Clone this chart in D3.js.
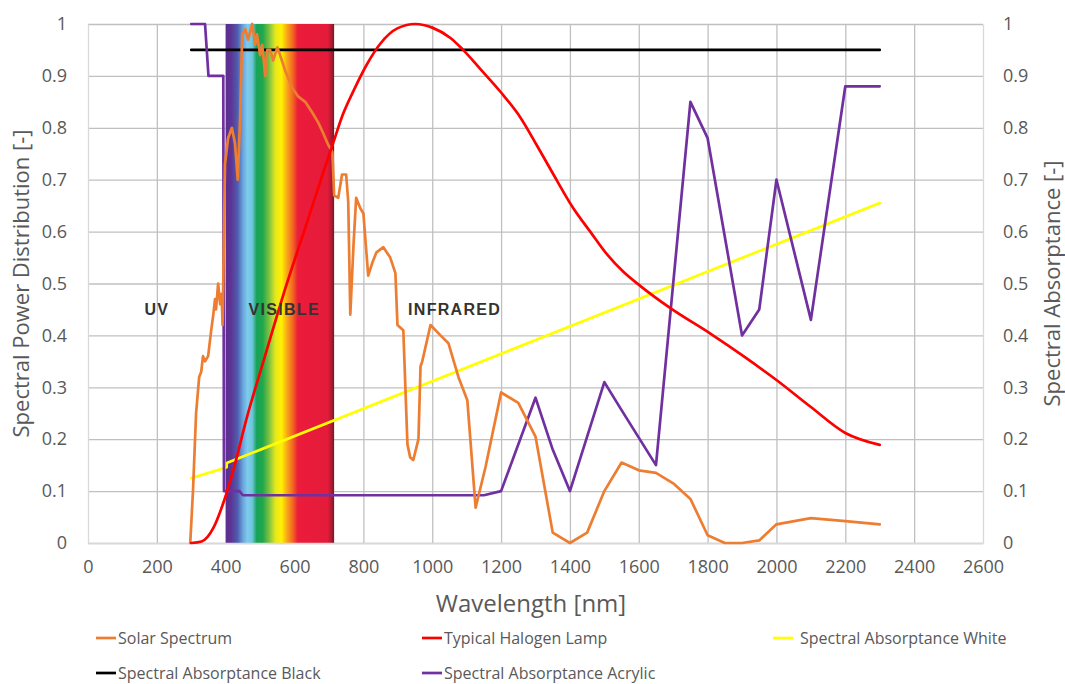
<!DOCTYPE html>
<html><head><meta charset="utf-8">
<script src="https://cdn.jsdelivr.net/npm/d3@7"></script>
<style>
body{margin:0;background:#fff;}
svg{display:block;}
</style></head>
<body>
<div id="chart"></div>
<script>
// ---------- DATA ----------
const xTicks = [0,200,400,600,800,1000,1200,1400,1600,1800,2000,2200,2400,2600];
const yTicks = [0,0.1,0.2,0.3,0.4,0.5,0.6,0.7,0.8,0.9,1];
const seriesNames = ["Solar Spectrum","Typical Halogen Lamp","Spectral Absorptance White","Spectral Absorptance Black","Spectral Absorptance Acrylic"];
const seriesColors = ["#ed7d31","#ff0000","#ffff00","#000000","#7030a0"];

const solarWl = [297,305,314,323,329,334,340,349,358,364,369,372,378,384,388,391,398,407,418,427,435,442,448,457,465,477,486,491,500,506,515,521,529,538,550,558,573,593,611,631,651,669,683,698,710,715,727,738,750,756,762,771,779,791,800,814,826,838,858,878,893,899,916,928,936,945,960,966,971,995,1024,1047,1076,1102,1126,1155,1200,1250,1300,1350,1400,1450,1500,1550,1600,1650,1700,1750,1800,1850,1900,1950,2000,2100,2200,2300];
const solarVal = [0,0.1,0.25,0.32,0.33,0.36,0.35,0.36,0.41,0.44,0.47,0.45,0.50,0.46,0.48,0.42,0.73,0.78,0.80,0.77,0.70,0.82,0.98,0.99,0.97,1.0,0.96,0.98,0.94,0.96,0.90,0.95,0.95,0.93,0.955,0.94,0.91,0.877,0.86,0.85,0.83,0.81,0.79,0.767,0.753,0.67,0.665,0.71,0.71,0.657,0.44,0.57,0.665,0.645,0.635,0.515,0.54,0.56,0.57,0.55,0.52,0.42,0.41,0.19,0.165,0.16,0.2,0.34,0.35,0.42,0.40,0.385,0.32,0.275,0.068,0.147,0.29,0.27,0.205,0.02,0.0,0.02,0.1,0.155,0.14,0.135,0.115,0.085,0.015,0.0,0.0,0.005,0.036,0.048,0.042,0.036];

const halogenWl = [300,330,365,393,422,462,515,573,631,689,712,740,774,810,849,900,951,1000,1053,1087,1140,1200,1256,1305,1353,1407,1460,1508,1556,1605,1693,1809,1900,2000,2100,2200,2300];
const halogenVal = [0,0.003,0.03,0.077,0.14,0.243,0.362,0.49,0.607,0.725,0.77,0.825,0.875,0.922,0.962,0.992,1.0,0.993,0.973,0.952,0.913,0.868,0.82,0.765,0.709,0.648,0.599,0.556,0.522,0.495,0.452,0.403,0.362,0.314,0.262,0.212,0.189];

const whiteWl = [300,403,403,2300];
const whiteVal = [0.125,0.146,0.154,0.655];

const blackWl = [300,2300];
const blackVal = [0.95,0.95];

const acrylicWl = [300,340,350,393,395,440,450,1150,1200,1300,1350,1400,1500,1550,1650,1750,1800,1900,1950,2000,2100,2200,2300];
const acrylicVal = [1,1,0.9,0.9,0.1,0.1,0.092,0.092,0.1,0.28,0.18,0.1,0.31,0.256,0.15,0.85,0.78,0.4,0.45,0.7,0.43,0.88,0.88];

const visibleBand = [400,715];
const regionLabels = ["UV","VISIBLE","INFRARED"];
const regionLabelWl = [200,570,1065];
const regionLabelVal = [0.44,0.44,0.44];

// ---------- LAYOUT ----------
const W = 1065, H = 684;
const L = 88, R = 983, T = 24, B = 543;
const svg = d3.select("#chart").append("svg").attr("width", W).attr("height", H);
const x = d3.scaleLinear().domain([0,2600]).range([L,R]);
const y = d3.scaleLinear().domain([0,1]).range([B,T]);
const y2 = d3.scaleLinear().domain([0,1]).range([B,T]);
const font = "'Open Sans', 'Liberation Sans', sans-serif";
const grey = "#595959";

// gridlines
const gH = svg.append("g").attr("transform", `translate(${L},0)`)
  .call(d3.axisLeft(y).tickValues(yTicks).tickSize(-(R-L)).tickFormat(""));
gH.select(".domain").remove();
gH.selectAll(".tick line").attr("stroke","#c0c0c0").attr("stroke-width",1.3);
const gV = svg.append("g").attr("transform", `translate(0,${B})`)
  .call(d3.axisBottom(x).tickValues(xTicks.slice(1,-1)).tickSize(-(B-T)).tickFormat(""));
gV.select(".domain").remove();
gV.selectAll(".tick line").attr("stroke","#c0c0c0").attr("stroke-width",1.3);

// visible band gradient
const defs = svg.append("defs");
const grad = defs.append("linearGradient").attr("id","spec").attr("x1","0").attr("x2","1").attr("y1","0").attr("y2","0");
const stops = [[0,"#5b2d90"],[0.05,"#5d3494"],[0.11,"#4f5db0"],[0.16,"#6aa6dc"],[0.2,"#7ecbee"],[0.245,"#6ec6da"],[0.285,"#17a35a"],[0.34,"#20a64b"],[0.4,"#7cc242"],[0.46,"#e6e81c"],[0.515,"#fff100"],[0.57,"#f9a11b"],[0.62,"#f26522"],[0.665,"#ec1c3a"],[0.94,"#e41b3a"],[0.975,"#b01a30"],[1,"#6d1a2a"]];
stops.forEach(s => grad.append("stop").attr("offset", s[0]).attr("stop-color", s[1]));
svg.append("rect").attr("x", x(visibleBand[0])).attr("y", T)
  .attr("width", x(visibleBand[1]) - x(visibleBand[0])).attr("height", B - T)
  .attr("fill","url(#spec)");

// axes lines
const axL = svg.append("g").attr("transform", `translate(${L},0)`)
  .call(d3.axisLeft(y).tickValues(yTicks).tickSize(0).tickPadding(21).tickFormat(d3.format("")));
const axR = svg.append("g").attr("transform", `translate(${R},0)`)
  .call(d3.axisRight(y2).tickValues(yTicks).tickSize(0).tickPadding(20).tickFormat(d3.format("")));
const axB = svg.append("g").attr("transform", `translate(0,${B})`)
  .call(d3.axisBottom(x).tickValues(xTicks).tickSize(0).tickPadding(17).tickFormat(d3.format("")));
[axL,axR,axB].forEach(a => {
  a.select(".domain").attr("stroke","#d9d9d9").attr("stroke-width",1.3);
  a.selectAll(".tick text").attr("fill", grey).style("font-family", font).style("font-size","18px");
});

// series
const mk = (wl, val) => wl.map((w,i) => [w, val[i]]);
const lineLin = d3.line().x(d => x(d[0])).y(d => y(d[1]));
const lineSmooth = d3.line().x(d => x(d[0])).y(d => y(d[1])).curve(d3.curveMonotoneX);
const series = [
  {d: mk(blackWl, blackVal), c: seriesColors[3], g: lineLin},
  {d: mk(whiteWl, whiteVal), c: seriesColors[2], g: lineLin},
  {d: mk(acrylicWl, acrylicVal), c: seriesColors[4], g: lineLin},
  {d: mk(solarWl, solarVal), c: seriesColors[0], g: lineLin},
  {d: mk(halogenWl, halogenVal), c: seriesColors[1], g: lineSmooth}
];
series.forEach(s => svg.append("path").datum(s.d).attr("d", s.g)
  .attr("fill","none").attr("stroke", s.c).attr("stroke-width", 2.7)
  .attr("stroke-linejoin","round").attr("stroke-linecap","round"));

// region labels
regionLabels.forEach((t,i) => svg.append("text")
  .attr("x", x(regionLabelWl[i])).attr("y", y(regionLabelVal[i]))
  .attr("text-anchor","middle")
  .style("font-family","'Liberation Sans', Arial, sans-serif").style("font-weight","bold")
  .style("font-size","16px").style("letter-spacing","1.3px")
  .attr("fill","#333").text(t));

// axis titles
svg.append("text").attr("x", 531).attr("y", 612).attr("text-anchor","middle")
  .style("font-family", font).style("font-size","24px").attr("fill", grey).text("Wavelength [nm]");
svg.append("text").attr("transform", `translate(29,${(T+B)/2}) rotate(-90)`).attr("text-anchor","middle")
  .style("font-family", font).style("font-size","22px").attr("fill", grey).text("Spectral Power Distribution [-]");
svg.append("text").attr("transform", `translate(1060,${(T+B)/2}) rotate(-90)`).attr("text-anchor","middle")
  .style("font-family", font).style("font-size","22px").attr("fill", grey).text("Spectral Absorptance [-]");

// legend
const legPos = [[96,638],[422,638],[773,638],[96,673],[422,673]];
const legGap = [2,2,7,2,2];
seriesNames.forEach((n,i) => {
  const g = svg.append("g").attr("transform", `translate(${legPos[i][0]},${legPos[i][1]})`);
  g.append("line").attr("x1",0).attr("x2",20).attr("y1",0).attr("y2",0)
    .attr("stroke", seriesColors[i]).attr("stroke-width",2.7);
  g.append("text").attr("x", 20 + legGap[i]).attr("y", 0).attr("dy","0.35em")
    .style("font-family", font).style("font-size","16px").attr("fill", grey).text(n);
});
</script>
</body></html>
